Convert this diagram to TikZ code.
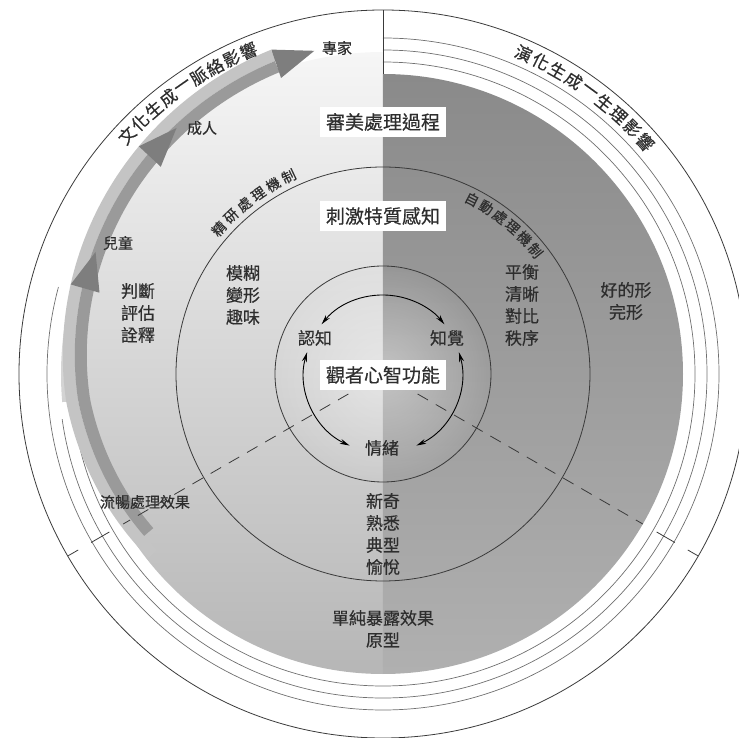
\documentclass[tikz,border=0pt]{standalone}
\usepackage{fontspec}
\newfontfamily\cjk[FakeBold=0.4]{Noto Sans CJK TC}
\usetikzlibrary{arrows.meta,fadings}
\definecolor{ink}{HTML}{2E2E2E}
\definecolor{edge}{HTML}{3A3A3A}
\definecolor{ringc}{HTML}{707070}
\definecolor{lefttop}{HTML}{F6F6F6}
\definecolor{leftbot}{HTML}{B6B6B6}
\definecolor{righttop}{HTML}{8A8A8A}
\definecolor{rightmid}{HTML}{949494}
\definecolor{rightbot}{HTML}{B0B0B0}
\definecolor{bandlight}{HTML}{C4C4C4}
\definecolor{banddark}{HTML}{9A9A9A}
\definecolor{headc}{HTML}{7E7E7E}
\tikzfading[name=spot,inner color=transparent!60,outer color=transparent!100]
\tikzset{every node/.style={font=\cjk\fontsize{17}{22}\selectfont,text=ink,inner sep=1pt,align=center}}
\tikzset{box/.style={fill=white,inner sep=6pt,font=\cjk\fontsize{19}{22}\selectfont}}
\tikzset{small/.style={font=\cjk\fontsize{15}{18}\selectfont}}
\tikzset{onarc/.style={font=\cjk\fontsize{14}{16}\selectfont,inner sep=0pt}}
\tikzset{onrim/.style={font=\cjk\fontsize{17}{18}\selectfont,inner sep=0pt}}
\tikzset{declare function={rin(\t)=294+0.33*max(0,185-\t)-0.6*max(0,\t-185);}}

\begin{document}
\begin{tikzpicture}[x=1pt,y=1pt]
  \useasboundingbox (-383,-364) rectangle (356,374);
  % disc, two halves
  \shade[top color=lefttop,bottom color=leftbot] (90:322) arc (90:185:322) -- (185:300) arc (185:270:300) -- cycle;
  \shade[top color=righttop,middle color=rightmid,bottom color=rightbot] (90:300) arc (90:-90:300) -- cycle;
  \fill[white,path fading=spot] (0,0) circle (108);
  \draw[edge,line width=0.8] (0,0) circle (207);
  \draw[edge,line width=0.8] (0,0) circle (108);
  % rings
  \foreach \r/\e in {312/-172,324/-172,336/-195}
    \draw[ringc,line width=0.7] (90:\r) arc (90:\e:\r);
  % ribbon
  \draw[bandlight,line width=12] plot[domain=218:109,samples=90] (\x:{rin(\x)+18});
  \draw[banddark,line width=12] plot[domain=214:109,samples=90] (\x:{rin(\x)+6});
  \foreach \t in {157,130,102}
    \fill[headc] (\t:{rin(\t)+9}) -- ({\t+7}:{rin(\t+7)+24}) -- ({\t+7}:{rin(\t+7)-6}) -- cycle;
  % ticks and dashes
  \foreach \a in {210,330} {
    \draw[edge,line width=0.8] (\a:316) -- (\a:337);
    \draw[edge,line width=0.8] (\a:352) -- (\a:364);
    \draw[edge,line width=0.8,dash pattern=on 12pt off 9pt] (\a:40) -- (\a:300);
  }
  \draw[edge,line width=0.8] (0,0) circle (364);
  \draw[edge,line width=0.8] (90:300) -- (90:364);
  % labels
  \node[box] (aes) at (0,252) {審美處理過程};
  \node[box] (stim) at (0,158) {刺激特質感知};
  \node[box] (mind) at (0,-1) {觀者心智功能};
  \node (cog) at (-68,36) {認知};
  \node (perc) at (64,36) {知覺};
  \node (emo) at (-1,-74) {情緒};
  \node (elab) at (-140,79) {模糊\\變形\\趣味};
  \node (judge) at (-245,61) {判斷\\評估\\詮釋};
  \node (auto) at (139,69) {平衡\\清晰\\對比\\秩序};
  \node (good) at (243,73) {好的形\\完形};
  \node (novel) at (0,-160) {新奇\\熟悉\\典型\\愉悅};
  \node (mere) at (0,-255) {單純暴露效果\\原型};
  \node[small] (fluent) at (-238,-128) {流暢處理效果};
  \node[small] (child) at (-265,131) {兒童};
  \node[small] (adult) at (-181,246) {成人};
  \node[small] (expert) at (-46,326) {專家};
  % mind arrows
  \coordinate (cp) at (141:79);
  \coordinate (ce) at (164:79);
  \coordinate (pe) at (16:79);
  \draw[{Stealth[length=10pt,width=5pt]}-{Stealth[length=10pt,width=5pt]},line width=0.9] (cp) arc (141:39:79);
  \draw[{Stealth[length=10pt,width=5pt]}-{Stealth[length=10pt,width=5pt]},line width=0.9] (ce) arc (164:245:79);
  \draw[{Stealth[length=10pt,width=5pt]}-{Stealth[length=10pt,width=5pt]},line width=0.9] (pe) arc (16:-65:79);
  % texts on the rings
  \foreach \c [count=\i] in {文,化,生,成,一,脈,絡,影,響}
    \node[onrim,rotate={137-3.05*(\i-1)-90}] (w\i) at ({137-3.05*(\i-1)}:350) {\c};
  \foreach \c [count=\i] in {演,化,生,成,一,生,理,影,響}
    \node[onrim,rotate={66.3-3.1*(\i-1)-90}] (e\i) at ({66.3-3.1*(\i-1)}:350) {\c};
  \foreach \c [count=\i] in {精,研,處,理,機,制}
    \node[onarc,rotate={138.5-4.6*(\i-1)-90}] (l\i) at ({138.5-4.6*(\i-1)}:219) {\c};
  \foreach \c [count=\i] in {自,動,處,理,機,制}
    \node[onarc,rotate={63-4.8*(\i-1)-90}] (r\i) at ({63-4.8*(\i-1)}:196) {\c};
\end{tikzpicture}
\end{document}
